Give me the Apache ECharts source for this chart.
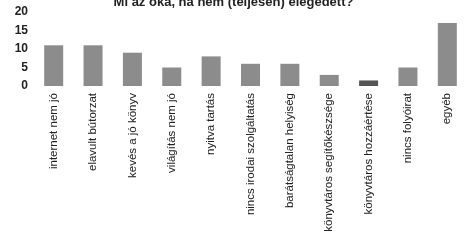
<!DOCTYPE html>
<html>
<head>
<meta charset="utf-8">
<script src="https://cdn.jsdelivr.net/npm/echarts@6/dist/echarts.min.js"></script>
<style>
    html, body { margin: 0; padding: 0; background: #fff; }
    #chart { width: 467px; height: 243px; }
</style>
</head>
<body>
<div id="chart"></div>
<script>
// adatok
var categories = ["internet nem jó", "elavult bútorzat", "kevés a jó könyv", "világítás nem jó",
    "nyitva tartás", "nincs irodai szolgáltatás", "barátságtalan helyiség",
    "könyvtáros segítőkészsége", "könyvtáros hozzáértése", "nincs folyóirat", "egyéb"];
var counts = [11, 11, 9, 5, 8, 6, 6, 3, 1.5, 5, 17];
var yTicks = [0, 5, 10, 15, 20];

var chart = echarts.init(document.getElementById('chart'));
var option = {
    animation: false,
    title: {
        text: 'Mi az oka, ha nem (teljesen) elégedett?',
        left: 'center',
        top: -9,
        textStyle: {
            fontFamily: 'Liberation Sans, Arial, sans-serif',
            fontSize: 13,
            fontWeight: 'bold',
            color: '#222'
        }
    },
    grid: {
        left: 34,
        right: -6,
        top: 12,
        bottom: 157
    },
    xAxis: {
        type: 'category',
        data: categories,
        axisLine: { show: false },
        axisTick: { show: false },
        axisLabel: {
            rotate: 90,
            interval: 0,
            margin: 7,
            fontFamily: 'Liberation Sans, Arial, sans-serif',
            fontSize: 11.5,
            color: '#222'
        }
    },
    yAxis: {
        type: 'value',
        min: yTicks[0],
        max: yTicks[yTicks.length - 1],
        interval: 5,
        splitLine: { show: false },
        axisLine: { show: false },
        axisTick: { show: false },
        axisLabel: {
            margin: 6,
            fontFamily: 'Liberation Sans, Arial, sans-serif',
            fontSize: 12,
            fontWeight: 'bold',
            color: '#222'
        }
    },
    series: [{
        type: 'bar',
        barWidth: 19,
        data: counts.map(function (v, i) {
            return {
                value: v,
                itemStyle: { color: i == 8 ? '#555555' : '#8c8c8c' }
            };
        })
    }]
};
chart.setOption(option);
</script>
</body>
</html>
